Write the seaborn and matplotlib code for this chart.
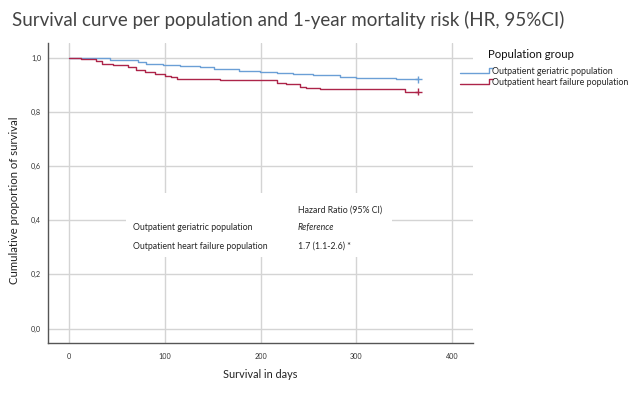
import pandas as pd
import matplotlib
matplotlib.use("Agg")
import matplotlib.pyplot as plt
import seaborn as sns
from matplotlib.lines import Line2D
from matplotlib.legend_handler import HandlerBase
from matplotlib.patches import Rectangle

# Kaplan-Meier steps
geri_days = [0, 14, 43, 72, 80, 98, 116, 137, 151, 178, 199, 217, 234, 255, 283, 300, 342, 365]
geri_surv = [1.0, 0.997, 0.991, 0.983, 0.978, 0.974, 0.969, 0.965, 0.959, 0.952, 0.948,
             0.945, 0.941, 0.935, 0.929, 0.924, 0.920, 0.920]
hf_days = [0, 12, 28, 34, 46, 62, 70, 79, 90, 100, 106, 113, 158, 217, 227, 241, 248, 262, 351, 365]
hf_surv = [1.0, 0.994, 0.986, 0.978, 0.974, 0.967, 0.954, 0.946, 0.940, 0.934, 0.927,
           0.920, 0.917, 0.908, 0.902, 0.893, 0.889, 0.883, 0.875, 0.875]

groups = ["Outpatient geriatric population", "Outpatient heart failure population"]
colors = ["#6b9fd6", "#ad2449"]

table_rows = ["Outpatient geriatric population", "Outpatient heart failure population"]
table_hr = ["Reference", "1.7 (1.1-2.6) *"]

df = pd.concat([
    pd.DataFrame({"day": geri_days, "surv": geri_surv, "group": groups[0]}),
    pd.DataFrame({"day": hf_days, "surv": hf_surv, "group": groups[1]}),
])
censor = df.groupby("group", sort=False).tail(1)

sns.set_style("white")
plt.rcParams["font.family"] = ["Lato", "DejaVu Sans"]

fig = plt.figure(figsize=(6.33, 4.04), dpi=100)
ax = fig.add_axes([48 / 633, 1 - 343 / 404, 425 / 633, 300 / 404])

sns.lineplot(data=df, x="day", y="surv", hue="group", palette=colors, hue_order=groups,
             drawstyle="steps-post", estimator=None, legend=False, lw=1.0, ax=ax, zorder=3)
sns.scatterplot(data=censor, x="day", y="surv", hue="group", palette=colors, hue_order=groups,
                marker="+", s=22, linewidth=1.0, legend=False, ax=ax, zorder=4)

ax.set_xlim(-22, 422)
ax.set_ylim(-0.053, 1.054)
ax.set_xticks([0, 100, 200, 300, 400])
ax.set_yticks([0, 0.2, 0.4, 0.6, 0.8, 1.0])
ax.set_yticklabels([f"{v:.1f}".replace(".", ",") for v in ax.get_yticks()])
ax.grid(True, color="#d4d4d4", lw=1.0)
ax.set_axisbelow(True)
ax.tick_params(length=0, labelsize=5.2, colors="#333333")
ax.tick_params(axis="x", pad=7)
ax.tick_params(axis="y", pad=5)
for s in ["top", "right"]:
    ax.spines[s].set_visible(False)
for s in ["left", "bottom"]:
    ax.spines[s].set_color("#555555")
    ax.spines[s].set_linewidth(1.0)

ax.set_xlabel("Survival in days", fontsize=7.8, color="#222222")
ax.set_ylabel("Cumulative proportion of survival", fontsize=8.2, color="#222222")
ax.xaxis.set_label_coords(260.5 / 633, 1 - 374 / 404, transform=fig.transFigure)
ax.yaxis.set_label_coords(15 / 633, 1 - 200 / 404, transform=fig.transFigure)
ax.xaxis.label.set_va("center")
ax.yaxis.label.set_va("center")

# white box holding the hazard ratio table
ax.add_patch(Rectangle((60, 0.266), 277, 0.234, facecolor="white", edgecolor="none", zorder=1.5))
ax.text(239, 0.437, "Hazard Ratio (95% CI)", fontsize=6.3, va="center", zorder=5)
for i, (row, hr) in enumerate(zip(table_rows, table_hr)):
    y = 0.372 - i * 0.068
    ax.text(67, y, row, fontsize=6.3, va="center", zorder=5)
    ax.text(239, y, hr, fontsize=6.3, va="center", zorder=5,
            style="italic" if hr == "Reference" else "normal")

fig.text(12 / 633, 1 - 20 / 404, "Survival curve per population and 1-year mortality risk (HR, 95%CI)",
         fontsize=13.5, color="#444444", va="center", ha="left")


class StepHandler(HandlerBase):
    def create_artists(self, legend, orig_handle, xdescent, ydescent, width, height, fontsize, trans):
        xs = [-xdescent, width * 0.93, width * 0.93, width * 1.05]
        ys = [height * 0.15, height * 0.15, height * 0.95, height * 0.95]
        return [Line2D(xs, ys, color=orig_handle.get_color(), lw=1.0, transform=trans)]


fig.text(488 / 633, 1 - 55 / 404, "Population group", fontsize=8.2, color="#111111", va="center")
handles = [Line2D([], [], color=c) for c in colors]
ax.legend(handles, groups, loc="upper left", bbox_to_anchor=(460 / 633, 1 - 67 / 404),
          bbox_transform=fig.transFigure, frameon=False, fontsize=6.4, handlelength=3.5,
          handletextpad=0.15, labelspacing=0.25, borderpad=0, borderaxespad=0,
          handler_map={Line2D: StepHandler()})

fig.savefig("out.png", dpi=100)
